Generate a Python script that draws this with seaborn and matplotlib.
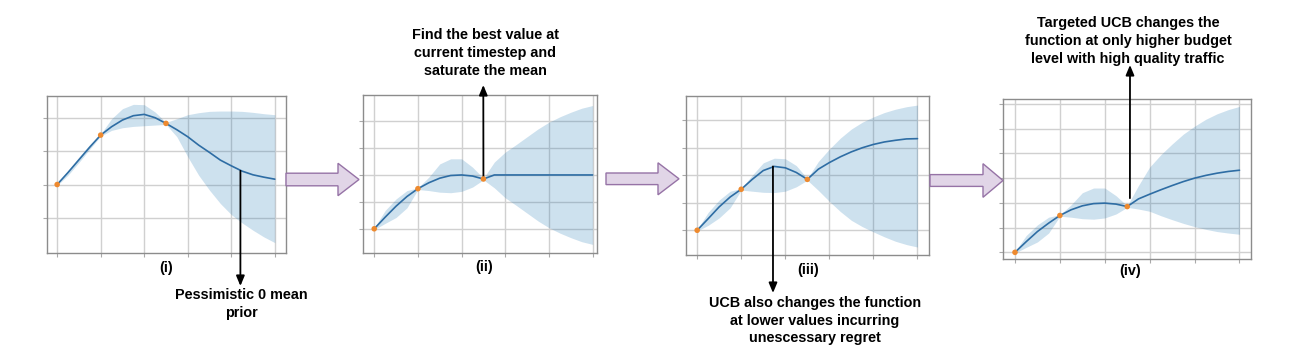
import numpy as np
import pandas as pd
import matplotlib.pyplot as plt
import seaborn as sns
from matplotlib.patches import Polygon

sns.set_style("whitegrid")
plt.rcParams['font.family'] = ['Liberation Sans', 'DejaVu Sans']

# budget grid (shared by every panel)
xs = [0, 0.25, 0.5, 0.75, 1, 1.25, 1.5, 1.75, 2, 2.25, 2.5,
      2.75, 3, 3.25, 3.5, 3.75, 4, 4.25, 4.5, 4.75, 5]

# (i) pessimistic prior
mean1 = [2.0, 2.36, 2.74, 3.12, 3.48, 3.73, 3.93, 4.06, 4.10, 4.00, 3.83,
         3.64, 3.43, 3.18, 2.96, 2.73, 2.56, 2.40, 2.29, 2.22, 2.16]
upper1 = [2.03, 2.42, 2.82, 3.20, 3.51, 3.97, 4.27, 4.40, 4.39, 4.17, 3.86,
          3.97, 4.09, 4.15, 4.19, 4.20, 4.20, 4.19, 4.16, 4.12, 4.09]
lower1 = [1.97, 2.28, 2.66, 3.06, 3.45, 3.62, 3.70, 3.74, 3.76, 3.78, 3.80,
          3.43, 2.83, 2.28, 1.83, 1.43, 1.10, 0.85, 0.63, 0.43, 0.26]

# (ii) saturated mean
mean2 = [0.0, 0.43, 0.84, 1.20, 1.49, 1.71, 1.88, 1.98, 2.00, 1.96, 1.85,
         2.0, 2.0, 2.0, 2.0, 2.0, 2.0, 2.0, 2.0, 2.0, 2.0]
upper2 = [0.03, 0.68, 1.11, 1.42, 1.52, 1.92, 2.41, 2.60, 2.60, 2.29, 1.88,
          2.48, 2.85, 3.13, 3.42, 3.71, 3.96, 4.16, 4.33, 4.48, 4.58]
lower2 = [-0.03, 0.20, 0.42, 0.78, 1.46, 1.42, 1.36, 1.34, 1.39, 1.55, 1.82,
          1.52, 1.15, 0.87, 0.58, 0.29, 0.04, -0.16, -0.33, -0.48, -0.58]

# (iii) UCB
mean3 = [0.0, 0.42, 0.85, 1.21, 1.49, 1.85, 2.17, 2.32, 2.27, 2.10, 1.85,
         2.22, 2.46, 2.67, 2.85, 3.00, 3.12, 3.21, 3.27, 3.32, 3.33]
upper3 = [0.03, 0.65, 1.10, 1.42, 1.52, 2.00, 2.45, 2.62, 2.60, 2.35, 1.88,
          2.50, 2.95, 3.35, 3.68, 3.93, 4.12, 4.28, 4.40, 4.49, 4.55]
lower3 = [-0.03, 0.18, 0.45, 0.82, 1.46, 1.42, 1.38, 1.37, 1.42, 1.58, 1.82,
          1.45, 1.05, 0.68, 0.36, 0.13, -0.06, -0.24, -0.40, -0.52, -0.61]

# (iv) targeted UCB
mean4 = [0.0, 0.43, 0.84, 1.18, 1.49, 1.72, 1.88, 1.97, 1.99, 1.95, 1.85,
         2.16, 2.35, 2.53, 2.70, 2.86, 3.00, 3.11, 3.20, 3.27, 3.32]
upper4 = [0.03, 0.68, 1.11, 1.42, 1.52, 1.92, 2.41, 2.60, 2.60, 2.29, 1.88,
          2.70, 3.45, 3.95, 4.38, 4.78, 5.10, 5.38, 5.60, 5.77, 5.90]
lower4 = [-0.03, 0.20, 0.42, 0.78, 1.46, 1.42, 1.36, 1.34, 1.39, 1.55, 1.82,
          1.75, 1.66, 1.48, 1.32, 1.17, 1.04, 0.93, 0.84, 0.78, 0.73]

# observed points
obs_x = [0, 1, 2.5]
obs1 = [2.0, 3.48, 3.83]
obs2 = [0.0, 1.49, 1.85]
obs3 = [0.0, 1.49, 1.85]
obs4 = [0.0, 1.49, 1.85]

labels = ["(i)", "(ii)", "(iii)", "(iv)"]
notes = ["Pessimistic 0 mean\nprior",
         "Find the best value at\ncurrent timestep and\nsaturate the mean",
         "UCB also changes the function\nat lower values incurring\nunescessary regret",
         "Targeted UCB changes the\nfunction at only higher budget\nlevel with high quality traffic"]

W, H = 1292, 358
fig = plt.figure(figsize=(W / 100, H / 100), dpi=100)

def px_rect(l, t, r, b):
    return [l / W, 1 - b / H, (r - l) / W, (b - t) / H]

def fpx(x, y):
    return (x / W, 1 - y / H)

panels = [
    dict(rect=(46.7, 96, 285.7, 253), xlim=(-0.24, 5.25), ylim=(-0.05, 4.65), yt=[1, 2, 3, 4],
         mean=mean1, up=upper1, lo=lower1, obs=obs1),
    dict(rect=(363.3, 95.3, 597, 253), xlim=(-0.25, 5.1), ylim=(-0.9, 4.96), yt=[0, 1, 2, 3, 4],
         mean=mean2, up=upper2, lo=lower2, obs=obs2),
    dict(rect=(685.7, 96, 928.5, 255.3), xlim=(-0.26, 5.25), ylim=(-0.91, 4.88), yt=[0, 1, 2, 3, 4],
         mean=mean3, up=upper3, lo=lower3, obs=obs3),
    dict(rect=(1003.3, 99, 1250.7, 259), xlim=(-0.26, 5.25), ylim=(-0.27, 6.2), yt=[0, 1, 2, 3, 4, 5, 6],
         mean=mean4, up=upper4, lo=lower4, obs=obs4),
]

axes = []
for p in panels:
    ax = fig.add_axes(px_rect(*p["rect"]))
    df = pd.DataFrame({"x": xs, "mean": p["mean"], "upper": p["up"], "lower": p["lo"]})
    ax.fill_between(df["x"], df["lower"], df["upper"], color="#1f77b4", alpha=0.22, lw=0)
    sns.lineplot(data=df, x="x", y="mean", ax=ax, color="#2e6da4", lw=1.2)
    sns.scatterplot(x=obs_x, y=p["obs"], ax=ax, color="#ee8a2f", s=16, edgecolor="none", zorder=5)
    ax.set_xlim(*p["xlim"])
    ax.set_ylim(*p["ylim"])
    ax.set_xticks(range(6))
    ax.set_yticks(p["yt"])
    ax.grid(True, color="#d0d0d0", lw=1)
    ax.tick_params(axis="both", length=3, width=0.8, color="#aaaaaa",
                   labelleft=False, labelbottom=False, left=True, bottom=True)
    ax.set_xlabel("")
    ax.set_ylabel("")
    for s in ax.spines.values():
        s.set_color("#8c8c8c")
        s.set_linewidth(1)
    axes.append(ax)

# panel captions
cap_pos = [(166, 268), (484, 267), (808, 270), (1130, 271)]
for lab, (cx, cy) in zip(labels, cap_pos):
    fig.text(*fpx(cx, cy), lab, ha="center", va="center", fontsize=10.4,
             fontweight="bold", color="black")

# annotation arrows (start on curve, end in figure pixels)
arrow_kw = dict(arrowstyle="-|>,head_length=0.6,head_width=0.25", color="black", lw=1.3,
                shrinkA=0, shrinkB=0, mutation_scale=10)
starts = [(4.21, 2.41), (2.5, 1.85), (1.72, 2.32), (2.56, 2.19)]
tips = [(240.4, 286), (483.3, 85), (773, 293), (1130, 65)]
for ax, (sx, sy), (tx, ty) in zip(axes, starts, tips):
    ax.annotate("", xy=(tx, H - ty), xycoords="figure pixels",
                xytext=(sx, sy), textcoords="data", arrowprops=arrow_kw, annotation_clip=False)

# annotation texts, centred on the block
note_pos = [(241.7, 304), (485, 53), (814.7, 320.5), (1128, 40.8)]
for txt, (nx, ny) in zip(notes, note_pos):
    fig.text(*fpx(nx, ny), txt, ha="center", va="center", color="black",
             fontsize=10.4, fontweight="bold", linespacing=1.35)

# block arrows between panels
def block_arrow(x0, x1, yc, body_h, head_h, head_len):
    pts = [(x0, yc - body_h), (x1 - head_len, yc - body_h), (x1 - head_len, yc - head_h),
           (x1, yc), (x1 - head_len, yc + head_h), (x1 - head_len, yc + body_h), (x0, yc + body_h)]
    pts = [fpx(x, y) for x, y in pts]
    fig.add_artist(Polygon(pts, closed=True, transform=fig.transFigure,
                           facecolor="#e1d5e7", edgecolor="#9673a6", lw=1))

block_arrow(286, 359, 179.5, 6.3, 16.2, 21)
block_arrow(606, 679, 178.8, 5.8, 16.0, 21)
block_arrow(930, 1003, 180.5, 5.9, 16.8, 20)

fig.savefig("out.png", dpi=100)
